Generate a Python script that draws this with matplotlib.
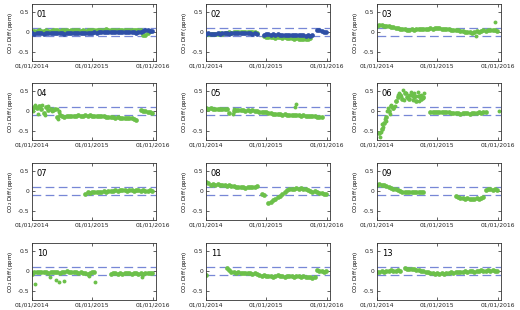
import numpy as np
import matplotlib
matplotlib.use("Agg")
import matplotlib.pyplot as plt
import matplotlib.dates as mdates

nan = np.nan

days = [0, 14, 28, 42, 56, 70, 84, 98, 112, 126, 140, 154, 168, 182, 196, 210, 224, 238,
        252, 266, 280, 294, 308, 322, 336, 350, 364, 378, 392, 406, 420, 434, 448, 462,
        476, 490, 504, 518, 532, 546, 560, 574, 588, 602, 616, 630, 644, 658, 672, 686,
        700, 714, 728]

g01 = [0.02, 0.03, 0.02, 0.04, 0.03, 0.02, 0.04, 0.03, 0.03, 0.04, 0.05, 0.04, 0.03, 0.04,
       0.05, 0.04, 0.03, 0.04, 0.05, 0.04, 0.04, 0.03, 0.04, 0.03, 0.04, 0.05, 0.04, 0.05,
       0.04, 0.05, 0.06, 0.05, 0.07, 0.06, 0.05, 0.06, 0.05, 0.06, 0.05, 0.06, 0.05, 0.06,
       0.05, 0.06, 0.05, 0.06, 0.05, 0.04, -0.06, -0.08, -0.02, 0.03, nan]
b01 = [-0.03, -0.04, -0.03, -0.02, -0.03, -0.04, -0.03, -0.02, -0.03, -0.03, -0.02, -0.03,
       -0.02, -0.03, -0.04, -0.03, -0.02, -0.03, -0.03, -0.02, -0.03, -0.02, -0.03, -0.02,
       -0.03, -0.02, -0.02, -0.01, -0.02, -0.01, 0.0, 0.01, 0.0, -0.01, 0.0, -0.01, -0.01,
       0.0, -0.01, 0.0, -0.01, 0.0, -0.01, 0.0, -0.01, -0.02, -0.01, 0.01, 0.03, 0.05, 0.04,
       0.03, 0.02]

g02 = [-0.05, -0.04, -0.05, -0.04, -0.05, -0.04, -0.03, -0.04, -0.03, -0.02, -0.01, -0.02,
       -0.01, 0.0, -0.01, 0.0, -0.01, 0.0, -0.01, 0.0, -0.01, 0.0, -0.02, nan, nan, -0.1,
       -0.12, -0.13, -0.12, -0.13, -0.14, -0.13, -0.12, -0.14, -0.13, -0.15, -0.14, -0.15,
       -0.16, -0.15, -0.16, -0.17, -0.16, -0.17, -0.16, -0.15, nan, nan, nan, nan, nan, nan, nan]
b02 = [-0.04, -0.03, -0.04, -0.05, -0.04, -0.03, -0.04, -0.03, -0.02, -0.03, -0.04, -0.03,
       -0.02, -0.03, -0.02, -0.03, -0.02, -0.03, -0.02, -0.03, -0.04, -0.03, -0.04, nan, nan,
       -0.06, -0.04, -0.05, -0.06, -0.05, -0.06, -0.05, -0.06, -0.07, -0.06, -0.07, -0.06,
       -0.07, -0.08, -0.07, -0.08, -0.07, -0.08, -0.09, -0.08, -0.09, -0.08, nan, 0.06, 0.04,
       0.03, 0.0, 0.01]

g03 = [0.16, 0.17, 0.17, 0.16, 0.15, 0.15, 0.13, 0.12, 0.1, 0.09, 0.08, 0.07, 0.07, 0.06,
       0.06, 0.07, 0.06, 0.07, 0.08, 0.07, 0.08, 0.07, 0.08, 0.09, 0.08, 0.09, 0.1, 0.09,
       0.08, 0.07, 0.08, 0.07, 0.06, 0.05, 0.04, 0.05, 0.03, 0.02, 0.01, 0.0, -0.01, -0.02,
       0.0, 0.02, 0.01, 0.03, 0.04, 0.03, 0.05, 0.04, 0.06, 0.05, 0.03]
x03_days = [596, 712]
x03_vals = [-0.1, 0.25]

g04 = [0.05, 0.1, 0.08, 0.12, 0.06, -0.05, 0.1, 0.03, 0.05, 0.02, 0.06, -0.15, -0.1, -0.12,
       -0.14, -0.12, -0.13, -0.11, -0.12, -0.13, -0.1, -0.12, -0.11, -0.1, -0.11, -0.1, -0.12,
       -0.11, -0.12, -0.13, -0.12, -0.13, -0.14, -0.15, -0.14, -0.15, -0.16, -0.15, -0.16,
       -0.17, -0.16, -0.18, -0.17, -0.18, -0.2, -0.22, nan, 0.03, 0.01, 0.0, -0.01, -0.03, -0.04]
x04_days = [8, 20, 36, 46, 62, 80, 96, 120, 150, 156, 162, 166]
x04_vals = [0.0, 0.15, -0.06, 0.13, 0.16, -0.1, 0.12, 0.0, 0.04, -0.2, -0.02, 0.0]

g05 = [0.07, 0.06, 0.07, 0.05, 0.06, 0.05, 0.06, 0.05, 0.04, 0.05, -0.05, nan, 0.0, 0.03,
       0.02, 0.03, 0.02, 0.01, 0.02, 0.01, 0.02, 0.0, 0.01, -0.01, -0.02, -0.03, -0.02, -0.04,
       -0.05, -0.06, -0.08, -0.07, -0.08, -0.09, -0.08, -0.09, -0.1, -0.09, -0.1, -0.09, -0.1,
       -0.11, -0.1, -0.12, -0.11, -0.12, -0.13, -0.12, -0.14, -0.15, -0.14, nan, nan]
x05_days = [165, 168, 540, 542]
x05_vals = [-0.06, 0.05, 0.1, 0.17]

g06 = [nan, -0.55, -0.45, -0.3, -0.15, 0.0, 0.12, 0.08, 0.25, 0.35, 0.4, 0.3, 0.45, 0.35,
       0.3, 0.4, 0.35, 0.25, 0.38, 0.3, 0.35, nan, nan, -0.02, -0.01, -0.02, -0.01, -0.02,
       -0.03, -0.02, -0.03, -0.02, -0.04, -0.05, -0.04, -0.05, -0.06, -0.05, -0.04, -0.05,
       -0.06, -0.05, -0.04, -0.05, -0.03, -0.04, -0.02, -0.03, nan, nan, nan, nan, nan]
x06_days = [16, 26, 30, 36, 46, 56, 62, 66, 76, 86, 96, 106, 116, 126, 136, 146, 156, 166,
            176, 186, 196, 206, 216, 226, 236, 246, 256, 266, 276, 286, 735]
x06_vals = [-0.65, -0.53, -0.33, -0.4, -0.2, -0.25, 0.0, 0.08, -0.08, 0.16, 0.08, 0.12, 0.25,
            0.4, 0.45, 0.37, 0.52, 0.28, 0.45, 0.32, 0.4, 0.48, 0.28, 0.45, 0.37, 0.48, 0.25,
            0.4, 0.33, 0.45, 0.0]

g07 = [nan] * 23 + [-0.08, -0.03, -0.04, -0.02, -0.03, -0.02, -0.01, -0.02, 0.0, -0.01, 0.01,
                    0.0, 0.01, 0.02, 0.01, 0.02, 0.03, 0.02, 0.01, 0.03, 0.02, 0.01, 0.02, 0.03,
                    0.01, 0.02, 0.0, 0.01, 0.02, 0.0]

g08 = [0.22, 0.2, 0.15, 0.17, 0.16, 0.17, 0.15, 0.16, 0.14, 0.13, 0.14, 0.12, 0.13, 0.11, 0.1,
       0.09, 0.1, 0.08, 0.1, 0.09, 0.1, 0.11, 0.12, nan, -0.06, -0.1, nan, -0.3, -0.28, -0.22,
       -0.2, -0.15, -0.12, -0.06, -0.02, 0.02, 0.04, 0.05, 0.06, 0.07, 0.05, 0.07, 0.06, 0.04,
       0.02, 0.0, -0.02, 0.0, -0.03, -0.04, -0.05, -0.06, -0.08]

g09 = [0.15, 0.17, 0.15, 0.14, 0.12, 0.09, 0.07, 0.06, 0.04, 0.02, 0.0, -0.01, -0.02, -0.01,
       -0.02, -0.03, -0.02, -0.03, -0.02, -0.03, -0.02] + [nan] * 13 + \
      [-0.12, -0.15, -0.17, -0.18, -0.19, -0.18, -0.19, -0.2, -0.19, -0.18, -0.19, -0.18,
       -0.15, 0.02, 0.04, 0.05, 0.03, 0.04, 0.02]

g10 = [-0.08, -0.03, -0.01, -0.02, -0.03, -0.01, -0.02, -0.04, -0.03, -0.02, -0.01, -0.03,
       -0.04, -0.02, -0.01, 0.0, -0.01, -0.02, -0.03, -0.02, -0.04, -0.03, -0.05, -0.04,
       -0.06, -0.05, -0.03, -0.02] + [nan] * 6 + \
      [-0.06, -0.05, -0.04, -0.06, -0.05, -0.06, -0.05, -0.04, -0.05, -0.06, -0.05, -0.04,
       -0.06, -0.05, -0.07, -0.05, -0.04, -0.05, -0.04]
x10_days = [16, 106, 146, 162, 196, 346, 382, 666]
x10_vals = [-0.33, -0.15, -0.22, -0.27, -0.24, -0.13, -0.27, -0.15]

g11 = [-0.1] + [nan] * 8 + \
      [0.08, 0.03, -0.02, -0.03, -0.04, -0.03, -0.04, -0.05, -0.04, -0.05, -0.04, -0.06,
       -0.05, -0.08, -0.1, -0.12, -0.1, -0.13, -0.11, -0.12, -0.14, -0.12, -0.1, -0.13, -0.12,
       -0.14, -0.11, -0.13, -0.12, -0.14, -0.12, -0.13, -0.15, -0.13, -0.14, -0.15, -0.14,
       -0.16, -0.15, 0.02, 0.0, 0.01, -0.01, 0.0]

g13 = [-0.03, -0.02, 0.0, -0.02, 0.01, 0.0, 0.02, 0.01, 0.0, 0.02, 0.01, nan, 0.08, 0.06,
       0.05, 0.06, 0.04, 0.03, 0.02, 0.0, 0.01, -0.01, -0.03, -0.05, -0.04, -0.06, -0.05,
       -0.07, -0.05, -0.06, -0.04, -0.05, -0.03, -0.04, -0.02, -0.03, -0.01, -0.02, 0.0, -0.01,
       0.01, 0.0, -0.01, 0.01, 0.0, 0.02, 0.01, 0.0, 0.02, 0.01, 0.02, 0.0, 0.01]

panels = [
    ("01", g01, b01, [], []),
    ("02", g02, b02, [], []),
    ("03", g03, None, x03_days, x03_vals),
    ("04", g04, None, x04_days, x04_vals),
    ("05", g05, None, x05_days, x05_vals),
    ("06", g06, None, x06_days, x06_vals),
    ("07", g07, None, [], []),
    ("08", g08, None, [], []),
    ("09", g09, None, [], []),
    ("10", g10, None, x10_days, x10_vals),
    ("11", g11, None, [], []),
    ("13", g13, None, [], []),
]

groen = "#6cc04a"
blauw = "#2e4fa6"
streep = "#7787d6"

start = np.datetime64("2014-01-01")
def naar_datum(d):
    return (start + np.array(d, dtype="timedelta64[D]")).astype("datetime64[ms]")

W, H = 520, 310
links = [32, 206, 377]
boven = [4, 83, 163, 243]
bw, bh = 124, 57

fig = plt.figure(figsize=(W / 100, H / 100), dpi=100)

for k, (naam, groenwaarden, blauwwaarden, xd, xv) in enumerate(panels):
    r, c = divmod(k, 3)
    ax = fig.add_axes([links[c] / W, 1 - (boven[r] + bh) / H, bw / W, bh / H])
    for y in (0.1, -0.1):
        ax.axhline(y, color=streep, lw=0.9, dashes=(7, 3.5), zorder=1)
    ax.plot(naar_datum(days), groenwaarden, "o", ms=3.4, color=groen, mec="none", zorder=2)
    if len(xd):
        ax.plot(naar_datum(xd), xv, "o", ms=2.8, color=groen, mec="none", zorder=2)
    if blauwwaarden is not None:
        ax.plot(naar_datum(days), blauwwaarden, "o", ms=3.4, color=blauw, mec="none", zorder=3)

    ax.set_xlim(naar_datum([0])[0], naar_datum([750])[0])
    ax.set_ylim(-0.72, 0.7)
    ax.set_yticks([-0.5, 0, 0.5])
    ax.set_yticklabels(["-0.5", "0", "0.5"])
    ax.set_xticks(naar_datum([0, 365, 730]))
    ax.xaxis.set_major_formatter(mdates.DateFormatter("%m/%d/%Y"))
    ax.tick_params(direction="in", length=2, width=0.5, labelsize=4.3, pad=2,
                   top=True, right=True, colors="#222222")
    for s in ax.spines.values():
        s.set_linewidth(0.6)
        s.set_color("#333333")
    ax.set_ylabel("CO$_2$ Diff (ppm)", fontsize=4, labelpad=2)
    ax.text(0.04, 0.9, naam, transform=ax.transAxes, va="top", ha="left", fontsize=6)

fig.savefig("out.png", dpi=100)
